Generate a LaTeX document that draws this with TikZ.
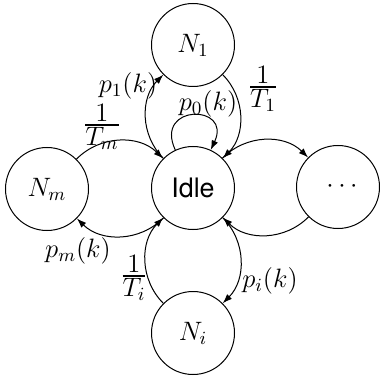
\RequirePackage{fix-cm}
\documentclass[tikz,border=0pt]{standalone}
\usepackage{fontspec}
\newfontfamily\idlefont{TeX Gyre Heros}
\usetikzlibrary{arrows.meta}
\newcommand{\rfrac}[2]{${\textstyle #1\above 0.9pt \textstyle #2}$}
\begin{document}
\begin{tikzpicture}[x=0.5pt,y=-0.5pt,
  state/.style={circle,draw,line width=0.5pt,minimum size=41.5pt,inner sep=0pt,font=\fontsize{13.3}{16}\selectfont},
  lbl/.style={inner sep=0pt,font=\fontsize{13.3}{16}\selectfont},
  tip/.style={-{Latex[length=4.8pt,width=3.4pt]},line width=0.5pt},
  arc/.style={tip,bend left=45}]
\useasboundingbox (0,0) rectangle (379,379);
\node[state] (idle) at (193,188) {\idlefont\fontsize{13.4}{16}\selectfont Idle};
\node[state] (n1) at (193,45) {$N_1$};
\node[state] (nm) at (47,189) {$N_m$};
\node[state] (dots) at (338,187) {\hspace*{4pt}$\cdots$};
\node[state] (ni) at (193,333) {$N_i$};
\draw[arc] (idle) to (n1);
\draw[arc] (n1) to (idle);
\draw[arc] (idle) to (dots);
\draw[arc] (dots) to (idle);
\draw[arc] (nm) to (idle);
\draw[arc] (idle) to (nm);
\draw[arc] (ni) to (idle);
\draw[arc] (idle) to (ni);
\draw[tip] (idle.115) .. controls +(115:25.5pt) and +(65:25.5pt) .. (idle.65);
\node[lbl] (lp1) at (128,86) {$p_1(k)$};
\node[lbl] (lp0) at (208,104) {$p_0(k)$};
\node[lbl] (lt1) at (263,89) {\rfrac{1}{T_1}};
\node[lbl] (ltm) at (102,127) {\rfrac{1}{T_m}};
\node[lbl] (lpm) at (78,251) {$p_m(k)$};
\node[lbl] (lti) at (134,278) {\rfrac{1}{T_i}};
\node[lbl] (lpi) at (270,281) {$p_i(k)$};
\end{tikzpicture}
\end{document}
